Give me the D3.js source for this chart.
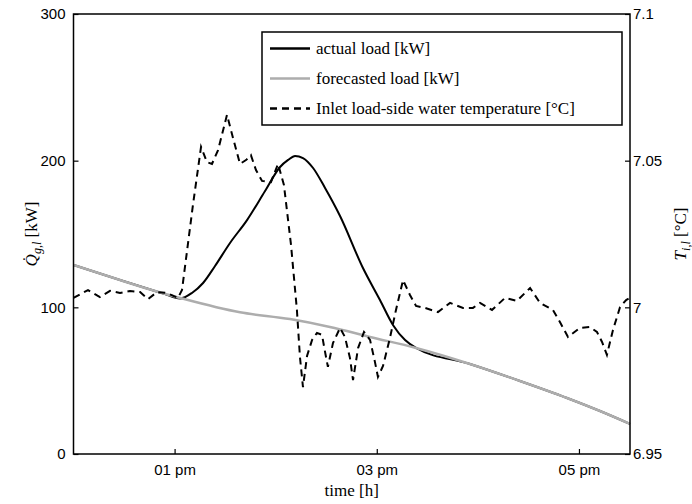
<!DOCTYPE html>
<html>
<head>
<meta charset="utf-8">
<script src="https://cdn.jsdelivr.net/npm/d3@7"></script>
<style>
  body { margin: 0; background: #fff; }
  svg { display: block; }
  .tick text { font-family: "Liberation Sans", Arial, sans-serif; font-size: 15px; fill: #000; }
  .serif { font-family: "Liberation Serif", "Times New Roman", serif; fill: #000; }
</style>
</head>
<body>
<script>
// minutes after 12:00
var forecastMin = [0, 27.6, 48.4, 63.2, 98.8, 128.5, 152.2, 176, 203.3, 235.3, 265, 292.9, 312.5, 330.3];
var forecastKW  = [128.9, 118.6, 111.1, 106.4, 96.6, 92, 86.6, 79.8, 72.3, 61.4, 49.8, 38.2, 29.3, 20.5];

var actualMin = [0, 27.6, 48.4, 54.3, 63.2, 70.3, 76.9, 84, 92.9, 103, 113.7, 122.6, 127.4, 131.5,
                 136.2, 142.2, 149.3, 158.2, 171.8, 181.9, 189.6, 196.8, 203.3, 235.3, 265, 292.9, 312.5, 330.3];
var actualKW  = [128.9, 118.6, 111.1, 109, 106, 109.8, 116.6, 128.2, 143.9, 159.5, 179.3, 195.7, 200.5, 203.2,
                 201.8, 195, 181.4, 162.3, 126.8, 105, 88, 77.7, 72.3, 61.4, 49.8, 38.2, 29.3, 20.5];

var tempMin = [0, 8.6, 15.7, 21.7, 27.6, 33.5, 39.5, 44.2, 49.6, 55.5, 62, 64.4, 70.9, 75.7, 79.2, 82.2, 85.8,
               91.1, 94.7, 98.8, 102.4, 105.3, 108.3, 111.9, 117.2, 121.4, 124.9, 129.1, 132.6, 134.4, 136.2,
               138.6, 141.6, 144.5, 147.5, 149.3, 151, 154, 158.2, 161.1, 164.1, 165.9, 168.9, 172.4, 176,
               178.9, 180.7, 183.7, 187.8, 191.4, 195.6, 199.7, 203.3, 208.6, 216.3, 223.5, 231.2, 237.1,
               241.3, 248.4, 256.1, 263.2, 271, 276.9, 284.6, 288.7, 293.5, 300.6, 306.5, 310.7, 313.7,
               316.6, 320.2, 324.4, 328, 330.3];
var tempC = [7.0032, 7.0059, 7.0035, 7.0056, 7.0049, 7.0056, 7.0052, 7.0028, 7.0052, 7.0049, 7.0032, 7.0059,
             7.0349, 7.0547, 7.0495, 7.0489, 7.0536, 7.0656, 7.0577, 7.0489, 7.0502, 7.0519, 7.0468, 7.0431,
             7.0427, 7.0489, 7.0417, 7.0213, 6.9991, 6.9831, 6.9728, 6.9834, 6.9889, 6.9913, 6.9906, 6.9848,
             6.9797, 6.9878, 6.993, 6.9899, 6.9827, 6.9752, 6.9861, 6.9916, 6.9889, 6.9814, 6.9763, 6.98,
             6.9895, 6.9991, 7.0093, 7.0042, 7.0005, 6.9998, 6.9984, 7.0015, 6.9998, 6.9998, 7.0015, 6.9991,
             7.0032, 7.0022, 7.0066, 7.0015, 6.9991, 6.995, 6.9899, 6.993, 6.9933, 6.9916, 6.9882, 6.9838,
             6.9923, 7.0001, 7.0025, 7.0032];

var xTicks = ["13:00", "15:00", "17:00"];
var yLeftTicks = [0, 100, 200, 300];
var yRightTicks = [6.95, 7, 7.05, 7.1];
var yRightLabels = ["6.95", "7", "7.05", "7.1"];
var legendNames = ["actual load [kW]", "forecasted load [kW]", "Inlet load-side water temperature [\u00B0C]"];

var width = 692, height = 504;
var margin = {left: 73.5, right: 62, top: 14, bottom: 50};

var base = new Date(2014, 0, 1, 12, 0);
function toDate(m) { return new Date(base.getTime() + m * 60000); }
var parseHM = d3.timeParse("%Y-%m-%d %H:%M");

var svg = d3.select("body").append("svg").attr("width", width).attr("height", height);

var x = d3.scaleTime()
    .domain([base, toDate(330.3)])
    .range([margin.left, width - margin.right]);
var yL = d3.scaleLinear().domain([0, 300]).range([height - margin.bottom, margin.top]);
var yR = d3.scaleLinear().domain([6.95, 7.1]).range([height - margin.bottom, margin.top]);

var forecast = forecastMin.map(function(m, i){ return {t: toDate(m), v: forecastKW[i]}; });
var actual = actualMin.map(function(m, i){ return {t: toDate(m), v: actualKW[i]}; });
var temp = tempMin.map(function(m, i){ return {t: toDate(m), v: tempC[i]}; });

var lineL = d3.line().x(function(d){ return x(d.t); }).y(function(d){ return yL(d.v); }).curve(d3.curveMonotoneX);
var lineR = d3.line().x(function(d){ return x(d.t); }).y(function(d){ return yR(d.v); });

svg.append("path").datum(actual)
    .attr("d", lineL).attr("fill", "none").attr("stroke", "#000").attr("stroke-width", 2);
svg.append("path").datum(forecast)
    .attr("d", lineL).attr("fill", "none").attr("stroke", "#adadad").attr("stroke-width", 2.5);
svg.append("path").datum(temp)
    .attr("d", lineR).attr("fill", "none").attr("stroke", "#000").attr("stroke-width", 2)
    .attr("stroke-dasharray", "7,5");

// axes (ticks inward, matlab style)
var fmt = function(d){ return d3.timeFormat("%I")(d) + " " + d3.timeFormat("%p")(d).toLowerCase(); };
var gx = svg.append("g").attr("transform", "translate(0," + (height - margin.bottom) + ")")
    .call(d3.axisBottom(x)
        .tickValues(xTicks.map(function(s){ return parseHM("2014-01-01 " + s); }))
        .tickFormat(fmt).tickSize(-5).tickPadding(10));
var gl = svg.append("g").attr("transform", "translate(" + margin.left + ",0)")
    .call(d3.axisLeft(yL).tickValues(yLeftTicks).tickSize(-5).tickPadding(8));
var gr = svg.append("g").attr("transform", "translate(" + (width - margin.right) + ",0)")
    .call(d3.axisRight(yR).tickValues(yRightTicks)
        .tickFormat(function(d, i){ return yRightLabels[i]; }).tickSize(-5).tickPadding(3));
[gx, gl, gr].forEach(function(g){
    g.select(".domain").remove();
    g.selectAll(".tick line").attr("stroke", "#000").attr("stroke-width", 1.2);
});

svg.append("rect")
    .attr("x", margin.left).attr("y", margin.top)
    .attr("width", width - margin.right - margin.left)
    .attr("height", height - margin.bottom - margin.top)
    .attr("fill", "none").attr("stroke", "#000").attr("stroke-width", 1.5);

// axis labels
svg.append("text").attr("class", "serif")
    .attr("x", (margin.left + width - margin.right) / 2).attr("y", 496)
    .attr("text-anchor", "middle").style("font-size", "17px").text("time [h]");

var ql = svg.append("text").attr("class", "serif")
    .attr("transform", "translate(37," + ((margin.top + height - margin.bottom) / 2) + ") rotate(-90)")
    .attr("text-anchor", "middle").style("font-size", "17px");
ql.append("tspan").style("font-style", "italic").text("Q\u0307");
ql.append("tspan").style("font-style", "italic").style("font-size", "12px").attr("dy", 4).text("g,l");
ql.append("tspan").attr("dy", -4).text(" [kW]");

var tl = svg.append("text").attr("class", "serif")
    .attr("transform", "translate(686," + ((margin.top + height - margin.bottom) / 2) + ") rotate(-90)")
    .attr("text-anchor", "middle").style("font-size", "17px");
tl.append("tspan").style("font-style", "italic").text("T");
tl.append("tspan").style("font-style", "italic").style("font-size", "12px").attr("dy", 4).text("i,l");
tl.append("tspan").attr("dy", -4).text(" [\u00B0C]");

// legend
var leg = svg.append("g");
leg.append("rect").attr("x", 262).attr("y", 32).attr("width", 360).attr("height", 93)
    .attr("fill", "#fff").attr("stroke", "#000").attr("stroke-width", 1.5);
var legStyle = [
    {stroke: "#000", w: 2.5, dash: null},
    {stroke: "#adadad", w: 2.5, dash: null},
    {stroke: "#000", w: 2.5, dash: "7,5"}
];
legendNames.forEach(function(name, i){
    var yy = 48.5 + i * 30;
    leg.append("line").attr("x1", 270).attr("x2", 310).attr("y1", yy).attr("y2", yy)
        .attr("stroke", legStyle[i].stroke).attr("stroke-width", legStyle[i].w)
        .attr("stroke-dasharray", legStyle[i].dash);
    leg.append("text").attr("class", "serif").attr("x", 316).attr("y", yy + 5)
        .style("font-size", "17px").text(name);
});
</script>
</body>
</html>
